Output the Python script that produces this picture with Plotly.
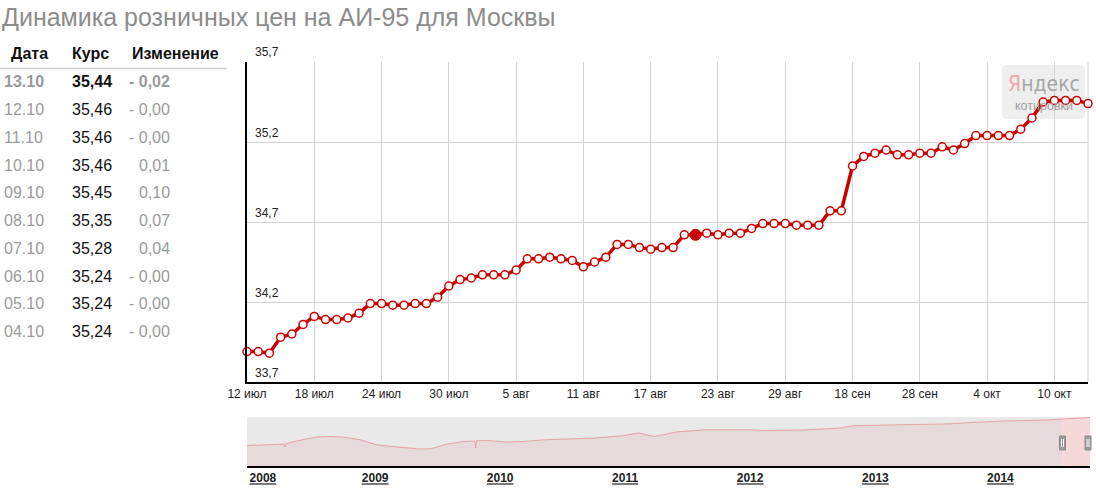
import plotly.graph_objects as go

W, H = 1096, 493
FONT = "Liberation Sans, Arial, sans-serif"

# ---------------- data ----------------
title_text = "Динамика розничных цен на АИ-95 для Москвы"

table_header = ["Дата", "Курс", "Изменение"]
table_dates = ["13.10", "12.10", "11.10", "10.10", "09.10", "08.10", "07.10", "06.10", "05.10", "04.10"]
table_rates = ["35,44", "35,46", "35,46", "35,46", "35,45", "35,35", "35,28", "35,24", "35,24", "35,24"]
table_changes = ["- 0,02", "- 0,00", "- 0,00", "0,01", "0,10", "0,07", "0,04", "- 0,00", "- 0,00", "- 0,00"]

x_tick_labels = ["12 июл", "18 июл", "24 июл", "30 июл", "5 авг", "11 авг", "17 авг",
                 "23 авг", "29 авг", "18 сен", "28 сен", "4 окт", "10 окт"]
y_tick_values = [33.7, 34.2, 34.7, 35.2, 35.7]
y_tick_labels = ["33,7", "34,2", "34,7", "35,2", "35,7"]

prices = [33.89, 33.89, 33.88, 33.98, 34.00, 34.06, 34.11, 34.09, 34.09, 34.10,
          34.13, 34.19, 34.19, 34.18, 34.18, 34.19, 34.19, 34.23, 34.30, 34.34,
          34.35, 34.37, 34.37, 34.37, 34.40, 34.47, 34.47, 34.48, 34.47, 34.46,
          34.42, 34.45, 34.48, 34.56, 34.56, 34.54, 34.53, 34.54, 34.54, 34.62,
          34.62, 34.63, 34.62, 34.63, 34.63, 34.66, 34.69, 34.69, 34.69, 34.68,
          34.68, 34.68, 34.77, 34.77, 35.05, 35.11, 35.13, 35.15, 35.12, 35.12,
          35.13, 35.13, 35.17, 35.15, 35.19, 35.24, 35.24, 35.24, 35.24, 35.28,
          35.35, 35.45, 35.46, 35.46, 35.46, 35.44]
highlight_index = 40

nav_dates = ["2008-01-16", "2008-03-31", "2008-05-03", "2008-05-06", "2008-05-09", "2008-06-03",
             "2008-08-05", "2008-09-05", "2008-10-24", "2008-12-11", "2009-01-28", "2009-04-01",
             "2009-06-04", "2009-07-06", "2009-08-23", "2009-10-11", "2009-11-11", "2009-11-14",
             "2009-11-17", "2009-12-13", "2010-02-15", "2010-04-04", "2010-06-07", "2010-08-09",
             "2010-10-27", "2011-01-15", "2011-03-04", "2011-04-20", "2011-06-23", "2011-09-11",
             "2011-11-29", "2012-02-01", "2012-03-04", "2012-06-23", "2012-10-14", "2012-11-15",
             "2013-03-22", "2013-08-29", "2013-10-31", "2014-02-04", "2014-06-12", "2014-07-29",
             "2014-10-02", "2014-10-13"]
nav_values = [23.6, 23.95, 24.2, 22.98, 24.4, 25.33,
              27.18, 27.43, 27.18, 26.05, 23.95, 22.98,
              22.14, 22.27, 24.24, 25.33, 25.5, 22.56,
              25.6, 25.75, 25.08, 25.33, 26.05, 26.34,
              26.76, 27.68, 28.86, 27.43, 29.28, 30.2,
              30.33, 30.2, 29.91, 30.12, 30.96, 31.88,
              32.3, 32.72, 33.27, 33.9, 34.36, 34.74,
              35.45, 35.44]
nav_years = ["2008", "2009", "2010", "2011", "2012", "2013", "2014"]
nav_year_ticks = ["2008-02-08", "2009-01-01", "2010-01-01", "2011-01-01",
                  "2012-01-01", "2013-01-01", "2014-01-01"]
nav_range = ["2008-01-16", "2014-10-13"]
nav_selection = ["2014-07-24", "2014-10-13"]


def px(x):
    return x / W


def py(y):
    return 1 - y / H


RED = "#cc0000"
idx = list(range(len(prices)))

fig = go.Figure()

# navigator area
fig.add_trace(go.Scatter(
    x=nav_dates, y=nav_values, xaxis="x2", yaxis="y2", mode="lines",
    line=dict(color="#e8a4a4", width=1), fill="tozeroy",
    fillcolor="rgba(215,140,140,0.16)", hoverinfo="skip", showlegend=False))

# main line
fig.add_trace(go.Scatter(
    x=idx, y=prices, mode="lines+markers",
    line=dict(color=RED, width=3.5),
    marker=dict(size=8, color="white", line=dict(color=RED, width=1.5)),
    cliponaxis=False, showlegend=False))
fig.add_trace(go.Scatter(
    x=[idx[highlight_index]], y=[prices[highlight_index]], mode="markers",
    marker=dict(size=11, color=RED, line=dict(color=RED, width=1)),
    cliponaxis=False, showlegend=False))

shapes = []
# right border of plot
shapes.append(dict(type="line", xref="paper", yref="paper", x0=px(1088), x1=px(1088),
                   y0=py(382), y1=py(62), line=dict(color="#d4d4d4", width=1), layer="below"))


# watermark box (rounded)
def rounded_rect(x0, y0, x1, y1, r):
    X = lambda v: px(v)
    Y = lambda v: py(v)
    return (f"M {X(x0 + r)},{Y(y0)} L {X(x1 - r)},{Y(y0)} Q {X(x1)},{Y(y0)} {X(x1)},{Y(y0 + r)} "
            f"L {X(x1)},{Y(y1 - r)} Q {X(x1)},{Y(y1)} {X(x1 - r)},{Y(y1)} "
            f"L {X(x0 + r)},{Y(y1)} Q {X(x0)},{Y(y1)} {X(x0)},{Y(y1 - r)} "
            f"L {X(x0)},{Y(y0 + r)} Q {X(x0)},{Y(y0)} {X(x0 + r)},{Y(y0)} Z")


shapes.append(dict(type="path", xref="paper", yref="paper", path=rounded_rect(1002, 65, 1085, 119, 5),
                   fillcolor="#efefef", line=dict(width=0), layer="below"))

# navigator backgrounds
shapes.append(dict(type="rect", xref="x2", yref="y2 domain", x0=nav_range[0], x1=nav_selection[0],
                   y0=0, y1=1, fillcolor="#e9e9e9", line=dict(width=0), layer="below"))
shapes.append(dict(type="rect", xref="x2", yref="y2 domain", x0=nav_selection[0], x1=nav_selection[1],
                   y0=0, y1=1, fillcolor="#fde6e6", line=dict(width=0), layer="below"))
# handles
for hx in (1062.5, 1088):
    shapes.append(dict(type="rect", xref="paper", yref="paper", x0=px(hx - 3), x1=px(hx + 3),
                       y0=py(450), y1=py(436), fillcolor="#9c9c9c", line=dict(color="#8a8a8a", width=1)))
    for dx in (-1, 1):
        shapes.append(dict(type="line", xref="paper", yref="paper", x0=px(hx + dx), x1=px(hx + dx),
                           y0=py(447), y1=py(439), line=dict(color="white", width=1)))
# table separator
shapes.append(dict(type="line", xref="paper", yref="paper", x0=0, x1=px(227), y0=py(68.5), y1=py(68.5),
                   line=dict(color="#cfcfcf", width=1.5)))

ann = []
ann.append(dict(text=title_text, x=0, y=py(17), xref="paper", yref="paper", xanchor="left",
                yanchor="middle", showarrow=False, font=dict(family=FONT, size=25, color="#8c8c8c")))
# y-axis labels, drawn inside the plot just above each grid line
for v, t in zip(y_tick_values, y_tick_labels):
    ann.append(dict(text=t, x=px(253), y=v, xref="paper", yref="y", xanchor="left", yanchor="middle",
                    yshift=9.5, showarrow=False, font=dict(family=FONT, size=12, color="#222")))
# table header
hdr_x = [(29, "center"), (90, "center"), (175, "center")]
for t, (hx, anc) in zip(table_header, hdr_x):
    ann.append(dict(text=f"<b>{t}</b>", x=px(hx), y=py(53.5), xref="paper", yref="paper",
                    xanchor=anc, yanchor="middle", showarrow=False,
                    font=dict(family=FONT, size=16, color="#111")))
row0, dy = 81.7, 27.78
for i, (d, r, c) in enumerate(zip(table_dates, table_rates, table_changes)):
    yy = py(row0 + i * dy)
    b0, b1 = ("<b>", "</b>") if i == 0 else ("", "")
    ann.append(dict(text=f"{b0}{d}{b1}", x=px(2), y=yy, xref="paper", yref="paper", xanchor="left",
                    yanchor="middle", showarrow=False, font=dict(family=FONT, size=16, color="#9a9a9a")))
    ann.append(dict(text=f"{b0}{r}{b1}", x=px(113.5), y=yy, xref="paper", yref="paper", xanchor="right",
                    yanchor="middle", showarrow=False, font=dict(family=FONT, size=16, color="#111")))
    ann.append(dict(text=f"{b0}{c}{b1}", x=px(171.5), y=yy, xref="paper", yref="paper", xanchor="right",
                    yanchor="middle", showarrow=False, font=dict(family=FONT, size=16, color="#9a9a9a")))
# watermark text
ann.append(dict(text="<span style='color:#f0a6a6'>Я</span>ндекс", x=px(1043.5), y=py(84), xref="paper",
                yref="paper", xanchor="center", yanchor="middle", showarrow=False,
                font=dict(family="Liberation Sans Narrow, DejaVu Sans Condensed, Arial Narrow, sans-serif",
                          size=21, color="#a6a6a6")))
ann.append(dict(text="котировки", x=px(1043.5), y=py(106), xref="paper", yref="paper",
                xanchor="center", yanchor="middle", showarrow=False,
                font=dict(family=FONT, size=12.5, color="#a0a0a0")))

fig.update_layout(
    width=W, height=H, margin=dict(l=0, r=0, t=0, b=0, autoexpand=False),
    paper_bgcolor="white", plot_bgcolor="white",
    font=dict(family=FONT, size=12, color="#222"),
    showlegend=False, hovermode=False,
    xaxis=dict(domain=[px(247), px(1088)], range=[0, len(prices) - 1], automargin=False,
               tickvals=[i * 6 for i in range(len(x_tick_labels))], ticktext=x_tick_labels,
               showgrid=True, gridcolor="#d4d4d4", gridwidth=1, zeroline=False,
               showline=True, linecolor="#000", linewidth=2, ticks="",
               tickfont=dict(family=FONT, size=12, color="#222"), anchor="y", fixedrange=True),
    yaxis=dict(domain=[py(382), py(62)], range=[33.7, 35.7], tickvals=y_tick_values,
               showticklabels=False, automargin=False,
               showgrid=True, gridcolor="#d4d4d4", gridwidth=1, zeroline=False,
               showline=True, linecolor="#000", linewidth=2, ticks="", anchor="x", fixedrange=True),
    xaxis2=dict(type="date", domain=[px(247), px(1090)], range=nav_range, anchor="y2", automargin=False,
                tickvals=nav_year_ticks, ticktext=[f"<b><u>{y}</u></b>" for y in nav_years],
                ticklabelshift=8, showgrid=False, zeroline=False, showline=True, linecolor="#000",
                linewidth=2, ticks="", tickfont=dict(family=FONT, size=12, color="#222"), fixedrange=True),
    yaxis2=dict(domain=[py(466), py(417)], range=[15, 35.6], anchor="x2", visible=False,
                automargin=False, fixedrange=True),
    shapes=shapes, annotations=ann,
)

fig.write_html("out.html", config={"displayModeBar": False},
               post_script="document.body.style.margin='0';document.body.style.overflow='hidden';")
